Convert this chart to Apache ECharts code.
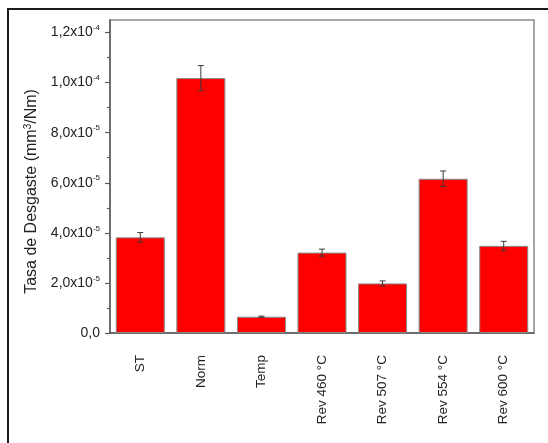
<!DOCTYPE html>
<html>
<head>
<meta charset="utf-8">
<script src="https://cdn.jsdelivr.net/npm/echarts@6/dist/echarts.min.js"></script>
<style>
  html, body { margin: 0; padding: 0; background: #fff; }
  #chart { width: 548px; height: 443px; }
</style>
</head>
<body>
<div id="chart"></div>
<script>
// Wear rate per heat-treatment condition (mm^3/Nm)
const categories = ['ST', 'Norm', 'Temp', 'Rev 460 °C', 'Rev 507 °C', 'Rev 554 °C', 'Rev 600 °C'];
const wearRate = [3.82e-5, 1.018e-4, 6.5e-6, 3.21e-5, 1.98e-5, 6.16e-5, 3.48e-5];
const wearError = [1.9e-6, 5.0e-6, 2.5e-7, 1.4e-6, 1.0e-6, 3.1e-6, 1.8e-6];

// Y-axis tick positions and their labels
const yMajorTicks = [0, 2e-5, 4e-5, 6e-5, 8e-5, 1e-4, 1.2e-4];
const yMinorTicks = [1e-5, 3e-5, 5e-5, 7e-5, 9e-5, 1.1e-4];
const yTickLabels = ['0,0', '2,0x10{sup|-5}', '4,0x10{sup|-5}', '6,0x10{sup|-5}',
                     '8,0x10{sup|-5}', '1,0x10{sup|-4}', '1,2x10{sup|-4}'];
const yMax = 1.25e-4;

const errorData = wearRate.map((v, i) => [i, v - wearError[i], v + wearError[i]]);

const chart = echarts.init(document.getElementById('chart'), null, { renderer: 'canvas' });

const axisColor = '#5a5a5a';
const textColor = '#222';
const fontFamily = 'Liberation Sans, Arial, sans-serif';

chart.setOption({
  animation: false,
  backgroundColor: '#fff',
  textStyle: { fontFamily: fontFamily },
  graphic: [{
    type: 'rect',
    shape: { x: 8, y: 9, width: 600, height: 500 },
    style: { fill: 'none', stroke: '#1a1a1a', lineWidth: 2 },
    silent: true
  }],
  grid: {
    left: 110, top: 20, right: 14, bottom: 110,
    show: true, borderColor: '#8a8a8a', borderWidth: 1.5, backgroundColor: 'transparent'
  },
  xAxis: [{
    type: 'category',
    data: categories,
    axisLine: { lineStyle: { color: axisColor, width: 1.5 } },
    axisTick: { alignWithLabel: true, length: 6, lineStyle: { color: axisColor, width: 1.2 } },
    axisLabel: {
      rotate: 90, margin: 22, fontSize: 13.5, color: textColor, fontFamily: fontFamily
    },
    splitLine: { show: false }
  }, {
    type: 'category',
    data: categories,
    position: 'bottom',
    axisLine: { show: false },
    axisTick: { length: 3, lineStyle: { color: axisColor, width: 1.2 } },
    axisLabel: { show: false },
    splitLine: { show: false }
  }],
  yAxis: [{
    type: 'value',
    min: 0, max: yMax,
    name: 'Tasa de Desgaste (mm{sup|3}/Nm)',
    nameLocation: 'middle',
    nameGap: 68,
    nameTextStyle: {
      fontSize: 16, color: textColor, fontFamily: fontFamily,
      padding: [0, 30, 0, 0],
      rich: { sup: { fontSize: 10, verticalAlign: 'top', padding: [0, 0, 8, 0], color: textColor } }
    },
    axisLine: { show: true, lineStyle: { color: axisColor, width: 1.5 } },
    axisTick: { show: true, length: 5, customValues: yMajorTicks, lineStyle: { color: axisColor, width: 1.2 } },
    axisLabel: {
      margin: 10, fontSize: 14, color: textColor, fontFamily: fontFamily,
      customValues: yMajorTicks,
      formatter: function (v) {
        const i = yMajorTicks.findIndex(t => Math.abs(t - v) < 1e-9);
        return i >= 0 ? yTickLabels[i] : '';
      },
      rich: { sup: { fontSize: 8, verticalAlign: 'top', padding: [0, 0, 9, 0], color: textColor } }
    },
    splitLine: { show: false }
  }, {
    type: 'value',
    min: 0, max: yMax,
    position: 'left',
    axisLine: { show: false },
    axisTick: { show: true, length: 3, customValues: yMinorTicks, lineStyle: { color: axisColor, width: 1.2 } },
    axisLabel: { show: false },
    splitLine: { show: false }
  }],
  series: [{
    type: 'bar',
    data: wearRate,
    barWidth: 49,
    itemStyle: { color: '#ff0000', borderColor: '#8a8a8a', borderWidth: 1 },
    z: 2
  }, {
    type: 'custom',
    data: errorData,
    z: 3,
    renderItem: function (params, api) {
      const x = api.value(0);
      const lo = api.coord([x, api.value(1)]);
      const hi = api.coord([x, api.value(2)]);
      const cap = 3;
      const style = { stroke: '#3a3a3a', lineWidth: 1 };
      return {
        type: 'group',
        children: [
          { type: 'line', shape: { x1: hi[0], y1: hi[1], x2: lo[0], y2: lo[1] }, style: style },
          { type: 'line', shape: { x1: hi[0] - cap, y1: hi[1], x2: hi[0] + cap, y2: hi[1] }, style: style },
          { type: 'line', shape: { x1: lo[0] - cap, y1: lo[1], x2: lo[0] + cap, y2: lo[1] }, style: style }
        ]
      };
    }
  }]
});
</script>
</body>
</html>
